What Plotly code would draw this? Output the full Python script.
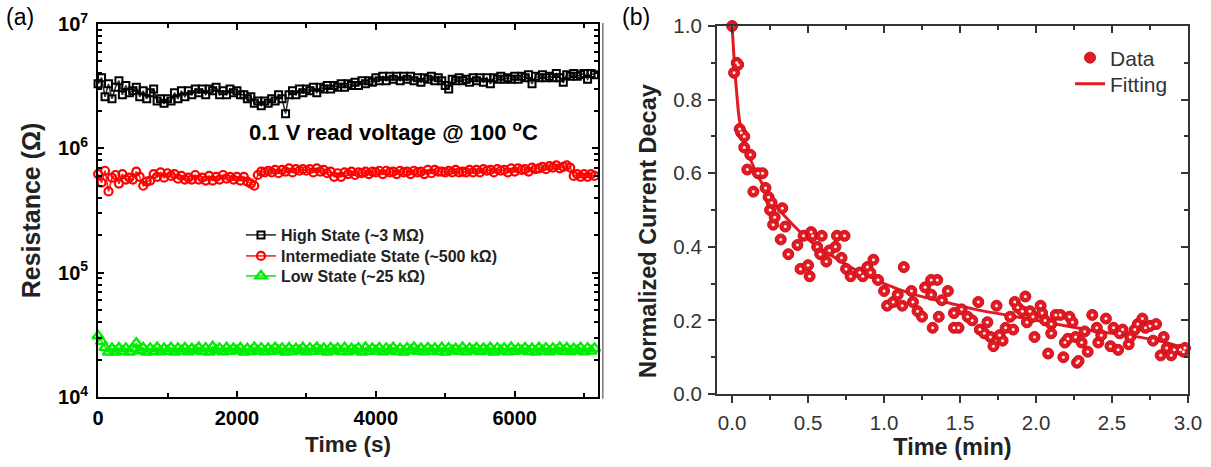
import plotly.graph_objects as go

# ---------------- panel (a): resistance retention at 100 °C ----------------
time_s = list(range(0, 7200, 50))

high_MOhm = [
    3.3, 3.7, 2.6, 3.3, 2.5, 3.1, 3.5, 2.7, 3.2, 2.8,
    2.9, 3.1, 2.6, 2.9, 2.5, 2.8, 3.0, 2.4, 2.5, 2.3,
    2.5, 2.4, 2.8, 2.5, 2.9, 2.6, 2.9, 2.7, 3.0, 2.8,
    3.0, 2.7, 3.0, 2.9, 3.1, 2.7, 2.9, 2.7, 3.0, 2.8,
    2.9, 2.7, 2.7, 2.5, 2.6, 2.3, 2.4, 2.2, 2.4, 2.3,
    2.5, 2.4, 2.7, 2.5, 1.9, 2.7, 2.9, 2.7, 3.0, 2.8,
    3.0, 2.9, 3.1, 2.8, 3.1, 3.0, 3.2, 3.0, 3.2, 3.1,
    3.3, 3.1, 3.3, 3.2, 3.4, 3.2, 3.5, 3.3, 3.5, 3.4,
    3.7, 3.5, 3.8, 3.5, 3.8, 3.6, 3.8, 3.5, 3.8, 3.6,
    3.8, 3.5, 3.7, 3.4, 3.7, 3.6, 3.8, 3.5, 3.7, 3.5,
    3.2, 3.0, 3.6, 3.5, 3.7, 3.5, 3.6, 3.4, 3.7, 3.5,
    3.7, 3.4, 3.7, 3.3, 3.7, 3.6, 3.8, 3.6, 3.7, 3.6,
    3.8, 3.6, 3.8, 3.7, 3.9, 3.3, 3.8, 3.7, 3.9, 3.7,
    3.8, 3.7, 4.0, 3.7, 3.4, 3.9, 3.8, 4.0, 3.8, 3.9,
    4.0, 3.6, 4.0, 3.9,
]

mid_kOhm = [
    620, 530, 660, 450, 580, 610, 520, 620, 560, 580,
    560, 650, 590, 500, 540, 550, 620, 590, 640, 580,
    630, 600, 620, 570, 600, 560, 580, 560, 610, 560,
    580, 550, 600, 550, 590, 560, 610, 570, 590, 560,
    590, 550, 590, 540, 520, 500, 610, 650, 640, 660,
    640, 670, 630, 670, 650, 690, 640, 680, 660, 680,
    660, 680, 640, 690, 650, 670, 630, 650, 590, 630,
    590, 640, 620, 650, 610, 640, 630, 650, 620, 650,
    640, 660, 620, 660, 640, 650, 620, 660, 640, 650,
    620, 660, 640, 650, 620, 670, 630, 670, 650, 650,
    640, 660, 640, 670, 640, 650, 640, 670, 640, 670,
    640, 680, 660, 670, 640, 680, 660, 670, 640, 690,
    650, 690, 670, 680, 650, 700, 680, 690, 710, 680,
    720, 700, 730, 690, 710, 730, 700, 600, 620, 590,
    620, 590, 620, 600,
]

low_kOhm = [
    31, 28, 25, 23, 24.5, 23, 24.8, 23.2, 24.6, 23,
    24.5, 27, 23.5, 24.8, 23, 24.6, 23.2, 25, 23.1, 24.5,
    23.3, 24.9, 23, 24.6, 23.4, 24.8, 23.1, 24.4, 23.6, 25,
    23.2, 24.7, 23, 25.3, 23.5, 24.6, 23.1, 24.9, 23.3, 24.5,
    23.6, 24.8, 23, 24.4, 23.2, 25, 23.4, 24.7, 23.1, 24.5,
    23.3, 24.9, 23.5, 24.6, 23, 24.8, 23.2, 24.4, 23.6, 24.9,
    23.1, 24.7, 23.3, 25, 23.4, 24.5, 23, 24.8, 23.5, 24.6,
    23.2, 24.9, 23.1, 24.4, 23.6, 24.7, 23, 25, 23.3, 24.5,
    23.4, 24.8, 23.1, 24.6, 23.5, 24.9, 23.2, 24.4, 23, 24.7,
    23.6, 25, 23.3, 24.5, 23.1, 24.8, 23.4, 24.6, 23.2, 24.9,
    23, 24.7, 23.5, 24.4, 23.3, 25, 23.1, 24.6, 23.6, 24.8,
    23.2, 24.5, 23.4, 24.9, 23, 24.7, 23.5, 24.6, 23.1, 25,
    23.3, 24.4, 23.6, 24.8, 23.2, 24.5, 23, 24.9, 23.4, 24.7,
    23.1, 24.6, 23.5, 25, 23.3, 24.8, 23.2, 24.4, 23.6, 24.9,
    23.1, 24.7, 23.4, 24.6,
]

res_tickvals = [1e4, 1e5, 1e6, 1e7]
res_ticktext = ["10<sup>4</sup>", "10<sup>5</sup>", "10<sup>6</sup>", "10<sup>7</sup>"]
res_minor = [m * 10 ** e for e in (4, 5, 6) for m in range(2, 10)]
time_major = [0, 2000, 4000, 6000]
time_minor = [1000, 3000, 5000, 7000]

# ---------------- panel (b): normalized current decay ----------------
decay_t = [
    0.0, 0.013, 0.03, 0.04, 0.05, 0.06, 0.08, 0.08, 0.10, 0.12,
    0.14, 0.17, 0.20, 0.22, 0.24, 0.25, 0.26, 0.27, 0.28, 0.32,
    0.33, 0.35, 0.37, 0.43, 0.45, 0.47, 0.50, 0.51, 0.52, 0.53,
    0.56, 0.58, 0.59, 0.62, 0.64, 0.68, 0.69, 0.72, 0.74, 0.75,
    0.78, 0.84, 0.86, 0.89, 0.91, 0.93, 0.96, 1.00, 1.02, 1.06,
    1.09, 1.12, 1.13, 1.18, 1.19, 1.22, 1.25, 1.27, 1.31, 1.31,
    1.32, 1.35, 1.36, 1.38, 1.42, 1.46, 1.46, 1.49, 1.51, 1.55,
    1.58, 1.62, 1.63, 1.66, 1.68, 1.70, 1.72, 1.74, 1.76, 1.78,
    1.80, 1.83, 1.85, 1.86, 1.88, 1.91, 1.93, 1.94, 1.96, 1.98,
    1.99, 2.03, 2.04, 2.06, 2.08, 2.10, 2.10, 2.13, 2.16, 2.18,
    2.19, 2.21, 2.22, 2.24, 2.26, 2.27, 2.28, 2.30, 2.32, 2.34,
    2.37, 2.40, 2.41, 2.43, 2.46, 2.49, 2.51, 2.54, 2.55, 2.57,
    2.61, 2.62, 2.65, 2.67, 2.70, 2.72, 2.75, 2.77, 2.79, 2.82,
    2.84, 2.86, 2.89, 2.91, 2.95, 2.97, 2.98,
]
decay_v = [
    1.00, 0.873, 0.90, 0.895, 0.72, 0.71, 0.70, 0.67, 0.61, 0.65,
    0.55, 0.60, 0.60, 0.56, 0.535, 0.50, 0.52, 0.46, 0.48, 0.42,
    0.505, 0.455, 0.38, 0.405, 0.34, 0.43, 0.35, 0.32, 0.44, 0.43,
    0.40, 0.38, 0.43, 0.36, 0.39, 0.40, 0.43, 0.37, 0.43, 0.34,
    0.32, 0.33, 0.32, 0.345, 0.33, 0.365, 0.31, 0.28, 0.24, 0.25,
    0.27, 0.24, 0.345, 0.28, 0.25, 0.225, 0.21, 0.29, 0.31, 0.27,
    0.18, 0.31, 0.21, 0.255, 0.28, 0.18, 0.22, 0.18, 0.23, 0.21,
    0.20, 0.25, 0.175, 0.165, 0.195, 0.155, 0.13, 0.24, 0.16, 0.145,
    0.18, 0.21, 0.175, 0.25, 0.235, 0.225, 0.265, 0.195, 0.225, 0.21,
    0.155, 0.24, 0.22, 0.20, 0.11, 0.19, 0.165, 0.215, 0.215, 0.10,
    0.14, 0.15, 0.21, 0.195, 0.155, 0.085, 0.09, 0.14, 0.17, 0.115,
    0.215, 0.18, 0.14, 0.16, 0.205, 0.13, 0.18, 0.12, 0.165, 0.175,
    0.135, 0.155, 0.175, 0.19, 0.205, 0.18, 0.185, 0.145, 0.19, 0.105,
    0.155, 0.125, 0.105, 0.12, 0.12, 0.115, 0.125,
]

fit_t = [0, 0.01, 0.02, 0.03, 0.05, 0.08, 0.1, 0.15, 0.2, 0.25, 0.3, 0.4,
         0.5, 0.6, 0.7, 0.8, 0.9, 1.0, 1.2, 1.4, 1.6, 1.8, 2.0, 2.2, 2.4,
         2.6, 2.8, 2.9, 3.0]
fit_v = [1.0, 0.93, 0.87, 0.82, 0.74, 0.69, 0.66, 0.61, 0.57, 0.535, 0.505,
         0.46, 0.42, 0.39, 0.365, 0.34, 0.32, 0.30, 0.27, 0.25, 0.23, 0.215,
         0.20, 0.185, 0.17, 0.16, 0.145, 0.135, 0.12]

FONT = "Liberation Sans, Arial, sans-serif"
RED = "#e41a22"

fig = go.Figure()

# panel (a) traces, one legend box per state so the rows sit where wanted
fig.add_trace(go.Scatter(
    x=time_s, y=[v * 1e6 for v in high_MOhm], mode="lines+markers",
    name="High State (~3 MΩ)", xaxis="x", yaxis="y", legend="legend",
    line=dict(color="#333333", width=1.6),
    marker=dict(symbol="square-open", size=7, color="black", line=dict(width=2)),
    cliponaxis=False))
fig.add_trace(go.Scatter(
    x=time_s, y=[v * 1e3 for v in mid_kOhm], mode="lines+markers",
    name="Intermediate State (~500 kΩ)", xaxis="x", yaxis="y", legend="legend3",
    line=dict(color="#ff2020", width=1.6),
    marker=dict(symbol="circle-open", size=8, color="#ff0000", line=dict(width=2.2)),
    cliponaxis=False))
fig.add_trace(go.Scatter(
    x=time_s, y=[v * 1e3 for v in low_kOhm], mode="lines+markers",
    name="Low State (~25 kΩ)", xaxis="x", yaxis="y", legend="legend4",
    line=dict(color="#11ee11", width=1.6),
    marker=dict(symbol="triangle-up-open", size=10, color="#00ee00", line=dict(width=2.4)),
    cliponaxis=False))

# panel (b) traces
fig.add_trace(go.Scatter(
    x=fit_t, y=fit_v, mode="lines", name="Fitting", xaxis="x2", yaxis="y2",
    legend="legend5", line=dict(color=RED, width=3, shape="spline")))
fig.add_trace(go.Scatter(
    x=decay_t, y=decay_v, mode="markers", name="Data", xaxis="x2", yaxis="y2",
    legend="legend2", cliponaxis=False,
    marker=dict(symbol="circle", size=11, color=RED, line=dict(color="#c8101a", width=1))))
fig.add_trace(go.Scatter(
    x=decay_t, y=decay_v, mode="markers", showlegend=False, hoverinfo="skip",
    xaxis="x2", yaxis="y2", cliponaxis=False,
    marker=dict(symbol="circle", size=3, color="#fff0f0")))

# empty traces that bind the tick-only overlay axes
for xa, ya in (("x3", "y3"), ("x4", "y4")):
    fig.add_trace(go.Scatter(x=[], y=[], xaxis=xa, yaxis=ya, showlegend=False,
                             hoverinfo="skip"))

tick_a = dict(family=FONT, size=20, color="black", weight="bold")
tick_b = dict(family=FONT, size=20.5, color="#333333")
title_b = dict(family=FONT, size=23.5, color="#222222", weight="bold")
legend_a_font = dict(family=FONT, size=16, color="#222", weight="bold")
legend_b_font = dict(family=FONT, size=21, color="#333")

X_A = [0.081, 0.4938]
Y_A = [0.15, 0.9486]
X_B = [0.592, 0.981]
Y_B = [0.1563, 0.9443]


def legend_box(x, y, font):
    return dict(x=x, y=y, xanchor="left", yanchor="middle", bgcolor="rgba(0,0,0,0)",
                font=font, borderwidth=0)


fig.update_layout(
    width=1211, height=467, margin=dict(l=0, r=0, t=0, b=0, autoexpand=False),
    template="none",
    paper_bgcolor="white", plot_bgcolor="white",
    font=dict(family=FONT),
    xaxis=dict(
        domain=X_A, anchor="y", range=[0, 7200], automargin=False,
        tickvals=time_major, ticks="inside", ticklen=6, tickwidth=2, tickcolor="black",
        showline=True, linecolor="black", linewidth=2, mirror="ticks",
        showgrid=False, zeroline=False, tickfont=tick_a, ticklabelstandoff=2,
        title=dict(text="Time (s)", font=dict(family=FONT, size=22.5, color="#222", weight="bold"),
                   standoff=8)),
    yaxis=dict(
        domain=Y_A, anchor="x", type="log", range=[4, 7], automargin=False,
        tickvals=res_tickvals, ticktext=res_ticktext,
        ticks="inside", ticklen=6, tickwidth=2, tickcolor="black",
        showline=True, linecolor="black", linewidth=2, mirror="ticks",
        showgrid=False, zeroline=False, tickfont=tick_a, ticklabelstandoff=4,
        title=dict(text="Resistance (Ω)", font=dict(family=FONT, size=25, color="#222", weight="bold"),
                   standoff=10)),
    # short minor ticks of panel (a), on all four edges
    xaxis4=dict(
        overlaying="x", anchor="y", range=[0, 7200], tickvals=time_minor, automargin=False,
        ticks="inside", ticklen=4, tickwidth=1.5, tickcolor="black", mirror="ticks",
        showticklabels=False, showline=False, showgrid=False, zeroline=False),
    yaxis4=dict(
        overlaying="y", anchor="x", type="log", range=[4, 7], tickvals=res_minor,
        automargin=False,
        ticks="inside", ticklen=4, tickwidth=1.5, tickcolor="black", mirror="ticks",
        showticklabels=False, showline=False, showgrid=False, zeroline=False),
    xaxis2=dict(
        domain=X_B, anchor="y2", range=[-0.1, 3.0], automargin=False,
        dtick=0.5, tick0=0, ticks="outside", ticklen=7, tickwidth=2, tickcolor="#333",
        tickformat=".1f",
        minor=dict(dtick=0.25, tick0=0, ticks="outside", ticklen=4, tickwidth=1.5, tickcolor="#333"),
        showline=True, linecolor="#333333", linewidth=2, mirror=False,
        showgrid=False, zeroline=False, tickfont=tick_b, ticklabelstandoff=2,
        title=dict(text="Time (min)", font=title_b, standoff=2)),
    yaxis2=dict(
        domain=Y_B, anchor="x2", range=[0, 1.0], automargin=False,
        dtick=0.2, tick0=0, ticks="outside", ticklen=7, tickwidth=2, tickcolor="#333",
        tickformat=".1f",
        minor=dict(dtick=0.1, tick0=0, ticks="outside", ticklen=4, tickwidth=1.5, tickcolor="#333"),
        showline=True, linecolor="#333333", linewidth=2, mirror=False,
        showgrid=False, zeroline=False, tickfont=tick_b, ticklabelstandoff=2),
    # inward-pointing ticks on the top and right edges of panel (b)
    xaxis3=dict(
        overlaying="x2", anchor="y2", side="top", range=[-0.1, 3.0], automargin=False,
        dtick=0.5, tick0=0, ticks="inside", ticklen=7, tickwidth=2, tickcolor="#333",
        minor=dict(dtick=0.25, tick0=0, ticks="inside", ticklen=4, tickwidth=1.5, tickcolor="#333"),
        showticklabels=False, showline=True, linecolor="#333333", linewidth=2,
        showgrid=False, zeroline=False),
    yaxis3=dict(
        overlaying="y2", anchor="x2", side="right", range=[0, 1.0], automargin=False,
        dtick=0.2, tick0=0, ticks="inside", ticklen=7, tickwidth=2, tickcolor="#333",
        minor=dict(dtick=0.1, tick0=0, ticks="inside", ticklen=4, tickwidth=1.5, tickcolor="#333"),
        showticklabels=False, showline=True, linecolor="#333333", linewidth=2,
        showgrid=False, zeroline=False),
    legend=legend_box(0.199, 0.4968, legend_a_font),
    legend3=legend_box(0.199, 0.4518, legend_a_font),
    legend4=legend_box(0.199, 0.4090, legend_a_font),
    legend2=legend_box(0.8836, 0.8758, legend_b_font),
    legend5=legend_box(0.8836, 0.8201, legend_b_font),
    annotations=[
        dict(text="0.1 V read voltage @ 100 <sup>o</sup>C", xref="paper", yref="paper",
             x=0.325, y=0.72, xanchor="center", yanchor="middle", showarrow=False,
             font=dict(family=FONT, size=22, color="black", weight="bold")),
        dict(text="Normalized Current Decay", xref="paper", yref="paper",
             x=0.535, y=0.505, xanchor="center", yanchor="middle", textangle=-90,
             showarrow=False, font=title_b),
        dict(text="(a)", xref="paper", yref="paper", x=0.003, y=0.995,
             xanchor="left", yanchor="top", showarrow=False,
             font=dict(family=FONT, size=23, color="black")),
        dict(text="(b)", xref="paper", yref="paper", x=0.512, y=0.995,
             xanchor="left", yanchor="top", showarrow=False,
             font=dict(family=FONT, size=23, color="black")),
    ],
    shapes=[
        dict(type="line", xref="paper", yref="paper", x0=0.4978, x1=0.4978,
             y0=0.146, y1=0.951, line=dict(color="#777777", width=1.5)),
    ],
)

fig.write_html("out.html")
